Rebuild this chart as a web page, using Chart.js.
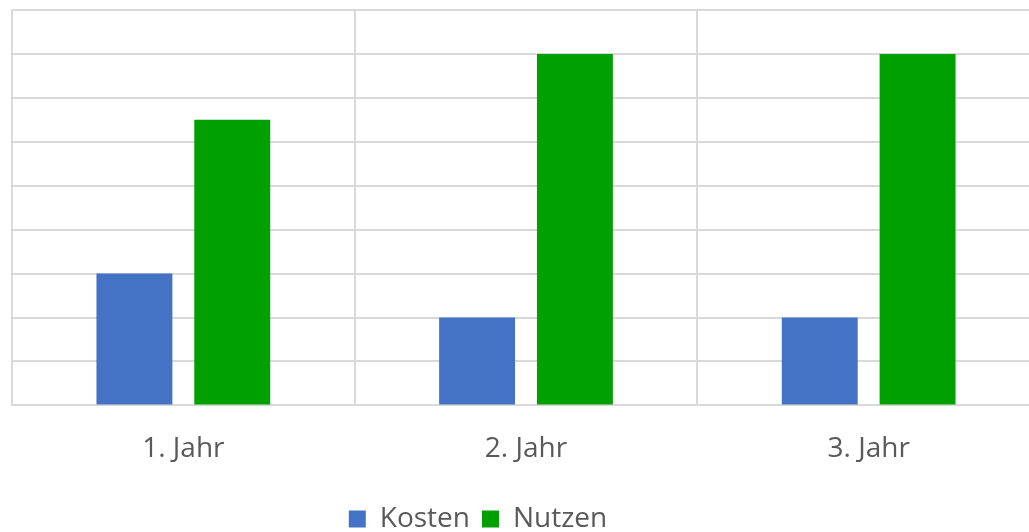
<!DOCTYPE html>
<html>
<head>
<meta charset="utf-8">
<script src="https://cdn.jsdelivr.net/npm/chart.js@4"></script>
<style>
  html, body { margin: 0; padding: 0; background: #fff; overflow: hidden; }
  #wrap { width: 1040px; height: 543px; }
</style>
</head>
<body>
<div id="wrap"><canvas id="chart"></canvas></div>
<script>
// Werte
const categories = ['1. Jahr', '2. Jahr', '3. Jahr'];
const kosten = [3, 2, 2];
const nutzen = [6.5, 8, 8];
const yMax = 9;

// Legende etwas nach links schieben (wie im Original)
const legendShift = {
    id: 'legendShift',
    afterLayout(chart) {
        const legend = chart.legend;
        legend.left -= 48;
        legend.right -= 48;
    }
};

new Chart(document.getElementById('chart'), {
    type: 'bar',
    data: {
        labels: categories,
        datasets: [
            { label: 'Kosten', data: kosten, backgroundColor: '#4472C4', barPercentage: 0.776, categoryPercentage: 0.571 },
            { label: 'Nutzen', data: nutzen, backgroundColor: '#00A000', barPercentage: 0.776, categoryPercentage: 0.571 }
        ]
    },
    options: {
        responsive: true,
        maintainAspectRatio: false,
        animation: false,
        layout: { padding: { left: 12, top: 10, right: 0, bottom: 0 } },
        plugins: {
            legend: {
                position: 'bottom',
                labels: {
                    boxWidth: 17,
                    boxHeight: 17,
                    padding: 12,
                    color: '#595959',
                    font: { family: 'Open Sans', size: 28 }
                }
            },
            tooltip: { enabled: false }
        },
        scales: {
            x: {
                grid: { color: '#d9d9d9', lineWidth: 2, drawTicks: false, offset: true },
                border: { color: '#d9d9d9', width: 2 },
                ticks: { color: '#595959', padding: 27, font: { family: 'Open Sans', size: 28 } }
            },
            y: {
                min: 0,
                max: yMax,
                ticks: { display: false, stepSize: 1 },
                grid: { color: '#d9d9d9', lineWidth: 2, drawTicks: false },
                border: { display: false }
            }
        }
    },
    plugins: [legendShift]
});
</script>
</body>
</html>
